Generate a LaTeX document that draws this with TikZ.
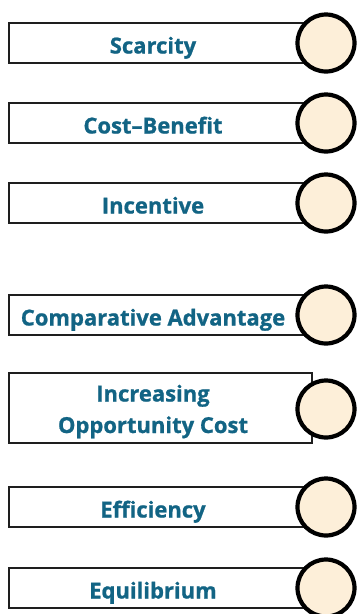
\documentclass[tikz,border=0pt]{standalone}
\usepackage{fontspec}
\setmainfont{Open Sans}[BoldFeatures={FakeBold=0.9}]
\begin{document}
\definecolor{termblue}{RGB}{18,100,132}
\definecolor{discfill}{RGB}{253,239,217}
\definecolor{edge}{RGB}{30,30,30}
\begin{tikzpicture}[x=1pt,y=-1pt,
  termbox/.style={draw=edge,line width=1.8pt,fill=white,minimum width=301pt,inner sep=0pt},
  term/.style={text=termblue,font=\fontsize{22}{31.5}\selectfont\bfseries,anchor=base,align=center,inner sep=0pt},
  disc/.style={circle,draw=black,line width=4.2pt,fill=discfill,minimum size=57pt,inner sep=0pt}]
\useasboundingbox (0,0) rectangle (358,614);

% single-line terms: box, label, disc
\foreach \name/\cy/\txt in {scar/43/Scarcity, cost/123/Cost--Benefit, inc/203/Incentive,
                           comp/315/Comparative Advantage, eff/507/Efficiency, equ/588/Equilibrium}{
  \node[termbox,minimum height=40pt] (\name box) at (159.5,\cy) {};
  \node[term] (\name txt) at (153,\cy+10.5) {\txt};
  \node[disc] (\name disc) at (326,\cy) {};
}

% two-line term
\node[termbox,minimum width=303pt,minimum height=70pt] (opp box) at (160.5,408) {};
\node[term] (opp txt) at (153,433) {Increasing\\Opportunity Cost};
\node[disc] (opp disc) at (326,409) {};
\end{tikzpicture}
\end{document}
